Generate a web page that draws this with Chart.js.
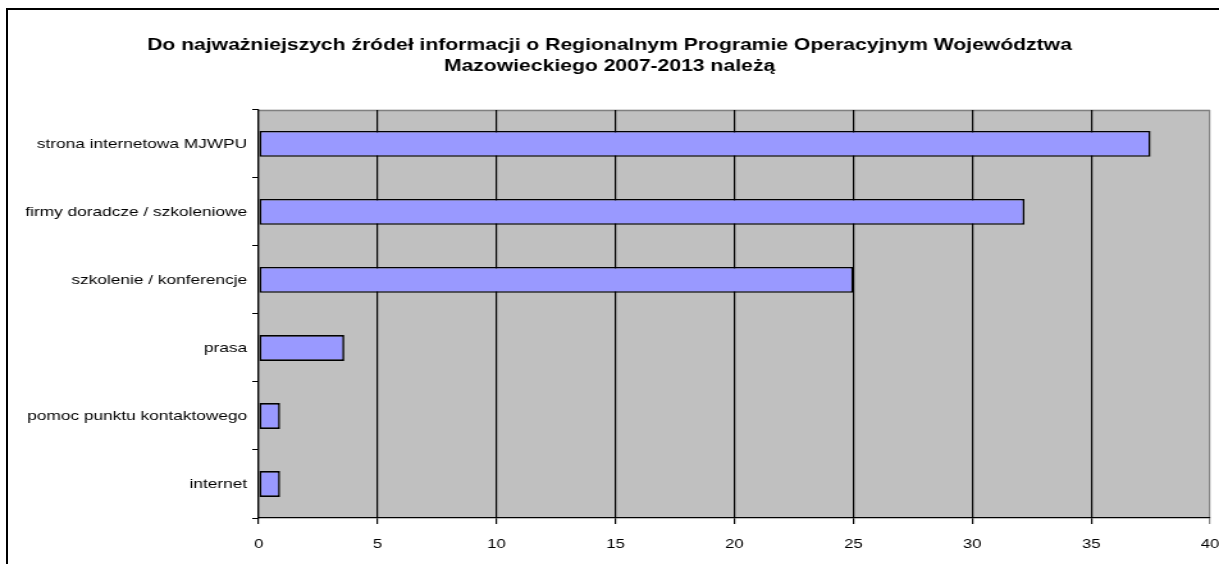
<!DOCTYPE html>
<html>
<head>
<meta charset="utf-8">
<script src="https://cdn.jsdelivr.net/npm/chart.js@4/dist/chart.umd.min.js"></script>
<style>
  html, body { margin: 0; padding: 0; background: #fff; }
  #wrap { position: relative; width: 1219px; height: 564px; overflow: hidden; }
  #frame { position: absolute; left: 6px; top: 8px; width: 1300px; height: 700px;
           border-left: 2px solid #000; border-top: 2px solid #000; }
  /* the original picture is stretched sideways, so the canvas is drawn narrower and scaled up */
  #chart { position: absolute; left: 0; top: 0; width: 1219px !important; height: 564px !important; }
</style>
</head>
<body>
<div id="wrap">
  <div id="frame"></div>
  <canvas id="chart" width="952" height="564"></canvas>
</div>
<script>
// ==================== DATA ====================
const titleLines = [
    'Do najważniejszych źródeł informacji o Regionalnym Programie Operacyjnym Województwa',
    'Mazowieckiego 2007-2013 należą'
];
const categories = [
    'strona internetowa MJWPU',
    'firmy doradcze / szkoleniowe',
    'szkolenie / konferencje',
    'prasa',
    'pomoc punktu kontaktowego',
    'internet'
];
const values = [37.5, 32.2, 25, 3.6, 0.9, 0.9];
const xMin = 0, xMax = 40, xStep = 5;

const FONT = 'Arial, "Liberation Sans", sans-serif';

// ==================== PLUGINS ====================
const plotBackground = {
    id: 'plotBackground',
    beforeDraw(chart) {
        const { ctx, chartArea: a } = chart;
        ctx.save();
        ctx.fillStyle = '#c0c0c0';
        ctx.fillRect(a.left, a.top, a.right - a.left, a.bottom - a.top);
        ctx.strokeStyle = '#808080';
        ctx.lineWidth = 1.5;
        ctx.beginPath();
        ctx.moveTo(a.left, a.top + 0.5);
        ctx.lineTo(a.right, a.top + 0.5);
        ctx.stroke();
        ctx.restore();
    }
};

// ==================== CHART ====================
new Chart(document.getElementById('chart'), {
    type: 'bar',
    data: {
        labels: categories,
        datasets: [{
            data: values,
            backgroundColor: '#9999ff',
            borderColor: '#000',
            borderWidth: 1.6,
            borderSkipped: false,
            barPercentage: 0.38,
            categoryPercentage: 1
        }]
    },
    options: {
        indexAxis: 'y',
        responsive: false,
        animation: false,
        layout: { padding: { left: 0, right: 0, top: 0, bottom: 0 } },
        plugins: {
            legend: { display: false },
            tooltip: { enabled: false },
            title: {
                display: true,
                text: titleLines,
                color: '#000',
                font: { family: FONT, size: 16.5, weight: 'bold', lineHeight: 1.33 },
                padding: { top: 34, bottom: 32 }
            }
        },
        scales: {
            x: {
                min: xMin,
                max: xMax,
                ticks: {
                    stepSize: xStep,
                    color: '#000',
                    font: { family: FONT, size: 13 },
                    padding: 13
                },
                grid: {
                    color: c => (c.tick && c.tick.value === xMax) ? '#808080' : '#000',
                    lineWidth: 1.2,
                    tickLength: 6
                },
                border: { display: true, color: '#000', width: 1.2 },
                afterFit(scale) {
                    scale.height = 46;
                    scale.paddingLeft = 0;
                    scale.paddingRight = 7;
                }
            },
            y: {
                ticks: {
                    color: '#000',
                    font: { family: FONT, size: 13.5 },
                    padding: 4
                },
                grid: {
                    offset: true,
                    drawOnChartArea: false,
                    color: '#000',
                    tickLength: 5
                },
                border: { display: true, color: '#000', width: 1.2 },
                afterFit(scale) { scale.width = 202; }
            }
        }
    },
    plugins: [plotBackground]
});
</script>
</body>
</html>
